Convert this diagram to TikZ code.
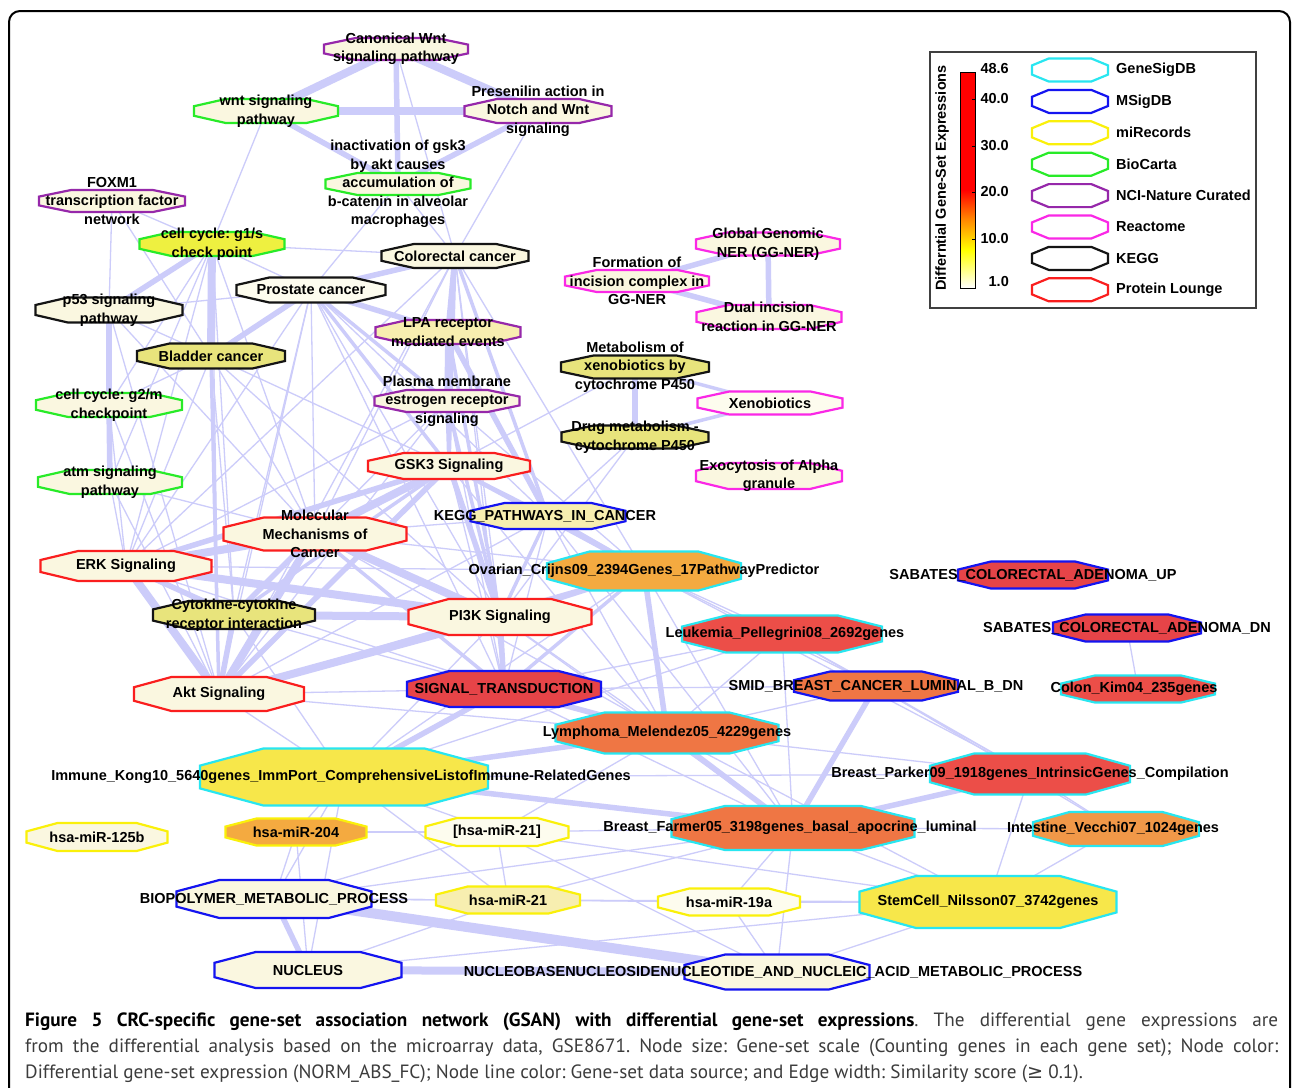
\documentclass[tikz,border=0pt]{standalone}
\usepackage{fontspec}
\setmainfont{Liberation Sans}
\newfontfamily\capfont{PT Sans}
\newfontfamily\symfont{DejaVu Sans}
\usetikzlibrary{calc}
\frenchspacing
\definecolor{edgec}{RGB}{204,204,250}
\definecolor{cream}{RGB}{250,247,224}
\definecolor{olive}{RGB}{232,228,124}
\definecolor{lyel}{RGB}{247,238,176}
\definecolor{byel}{RGB}{238,240,64}
\definecolor{gyel}{RGB}{247,231,74}
\definecolor{orng}{RGB}{244,170,64}
\definecolor{orng2}{RGB}{241,152,72}
\definecolor{ored}{RGB}{239,118,68}
\definecolor{rred}{RGB}{236,78,72}
\definecolor{sred}{RGB}{230,68,72}
\definecolor{wcream}{RGB}{253,252,238}
\definecolor{cGS}{RGB}{40,230,240}
\definecolor{cMS}{RGB}{20,20,240}
\definecolor{cMI}{RGB}{250,240,10}
\definecolor{cBC}{RGB}{40,235,40}
\definecolor{cNCI}{RGB}{150,40,170}
\definecolor{cRE}{RGB}{250,40,230}
\definecolor{cKE}{RGB}{20,20,20}
\definecolor{cPL}{RGB}{250,30,30}
\definecolor{captxt}{RGB}{60,60,60}
\tikzset{
  et/.style={draw=edgec, line width=1.3pt},
  em/.style={draw=edgec, line width=3.5pt},
  ek/.style={draw=edgec, line width=5.5pt},
  eK/.style={draw=edgec, line width=8pt},
  eH/.style={draw=edgec, line width=10pt},
  lab/.style={font=\bfseries\fontsize{14.5}{18.5}\selectfont, align=center, inner sep=0pt, text=black},
  leglab/.style={font=\bfseries\fontsize{14.5}{17}\selectfont, inner sep=0pt, text=black},
}
\newcommand\gsnode[5]{\node[inner sep=0pt, outer sep=0pt, minimum width=#4pt, minimum height=#5pt] (#1) at (#2,#3) {};}
\newcommand\gsoct[3]{%
 \filldraw[draw=#3, fill=#2, line width=2.2pt]
  ($(#1.north west)!0.22!(#1.north east)$) --
  ($(#1.north west)!0.78!(#1.north east)$) --
  ($(#1.north east)!0.3!(#1.south east)$) --
  ($(#1.north east)!0.7!(#1.south east)$) --
  ($(#1.south west)!0.78!(#1.south east)$) --
  ($(#1.south west)!0.22!(#1.south east)$) --
  ($(#1.north west)!0.7!(#1.south west)$) --
  ($(#1.north west)!0.3!(#1.south west)$) -- cycle;}
\begin{document}
\begin{tikzpicture}[x=1pt,y=-1pt]
\useasboundingbox (0,0) rectangle (1292,1087);
\fill[white] (0,0) rectangle (1292,1087);
\draw[line width=2pt, rounded corners=11pt] (9,1130) -- (9,11) -- (1290,11) -- (1290,1130);

% ---- node frames (positions) ----
\gsnode{canon}{396}{49}{144}{22}
\gsnode{wnt}{266}{111}{144}{24}
\gsnode{presen}{538}{111}{147}{24}
\gsnode{inact}{398}{184}{145}{22}
\gsnode{foxm1}{112}{201}{146}{22}
\gsnode{g1s}{212}{244}{145}{24}
\gsnode{colo}{455}{256}{147}{24}
\gsnode{prost}{311}{290}{149}{25}
\gsnode{p53}{109}{310}{147}{25}
\gsnode{blad}{211}{356}{148}{25}
\gsnode{lpa}{448}{332}{145}{24}
\gsnode{plasma}{447}{401}{145}{22}
\gsnode{g2m}{109}{405}{146}{24}
\gsnode{atm}{110}{482}{144}{24}
\gsnode{gsk3}{449}{466}{162}{26}
\gsnode{keggpc}{548}{516}{155}{26}
\gsnode{molec}{315}{534}{183}{33}
\gsnode{erk}{126}{566}{171}{30}
\gsnode{ovar}{644}{571}{194}{39}
\gsnode{cyto}{234}{615}{162}{28}
\gsnode{pi3k}{500}{617}{183}{36}
\gsnode{leuk}{782}{634}{200}{37}
\gsnode{sabup}{1033}{575}{150}{27}
\gsnode{sabdn}{1127}{628}{148}{27}
\gsnode{akt}{219}{694}{170}{34}
\gsnode{signal}{504}{689}{194}{36}
\gsnode{smid}{876}{686}{164}{29}
\gsnode{colon}{1138}{689}{154}{27}
\gsnode{lymph}{667}{733}{223}{41}
\gsnode{immune}{344}{777}{288}{57}
\gsnode{parker}{1030}{774}{200}{41}
\gsnode{mA}{97}{837}{141}{28}
\gsnode{mB}{296}{832}{141}{27}
\gsnode{mC}{497}{832}{143}{28}
\gsnode{farmer}{793}{828}{243}{44}
\gsnode{intest}{1116}{829}{166}{34}
\gsnode{biopol}{274}{899}{195}{38}
\gsnode{mD}{508}{900}{144}{27}
\gsnode{mE}{729}{902}{142}{27}
\gsnode{stem}{988}{902}{257}{52}
\gsnode{nucleus}{308}{970}{187}{36}
\gsnode{nucbase}{777}{972}{185}{35}
\gsnode{formation}{637}{281}{144}{22}
\gsnode{global}{768}{244}{144}{23}
\gsnode{dual}{769}{317}{145}{24}
\gsnode{xmetab}{635}{367}{148}{23}
\gsnode{xeno}{770}{403}{145}{23}
\gsnode{drug}{635}{437}{147}{23}
\gsnode{exo}{769}{476}{146}{26}

% ---- edges ----
\foreach \a/\b in {canon/colo, presen/colo, inact/colo, inact/prost, wnt/g1s, foxm1/g1s, foxm1/p53, foxm1/blad,
  g1s/colo, g1s/prost, g1s/g2m, g1s/atm, g1s/erk, g1s/molec, g1s/akt, g1s/cyto, p53/blad, p53/prost, p53/molec, p53/akt,
  blad/molec, blad/erk, blad/cyto, blad/gsk3, blad/pi3k, g2m/erk, g2m/akt, g2m/blad, atm/akt, atm/erk, atm/molec,
  prost/molec, prost/erk, prost/akt, prost/cyto, prost/pi3k, prost/keggpc, prost/signal, colo/pi3k, colo/molec, colo/ovar,
  colo/akt, colo/signal, colo/erk, plasma/molec, plasma/akt, plasma/erk, plasma/signal, plasma/ovar, gsk3/signal, gsk3/lymph,
  keggpc/signal, keggpc/molec, keggpc/akt, keggpc/lymph, keggpc/farmer, molec/ovar, molec/lymph, erk/signal, erk/ovar,
  pi3k/lymph, pi3k/immune, pi3k/farmer, akt/signal, akt/immune, akt/lymph, cyto/signal, cyto/immune, ovar/leuk, ovar/smid,
  ovar/immune, ovar/farmer, ovar/parker, signal/farmer, signal/leuk, signal/smid, leuk/lymph, leuk/smid, leuk/farmer,
  leuk/immune, leuk/parker, smid/lymph, smid/parker, smid/intest, lymph/parker, lymph/mC, lymph/stem, immune/mB, immune/mC,
  immune/biopol, immune/parker, immune/nucleus, immune/mD, parker/intest, parker/stem, farmer/intest, farmer/stem, farmer/mE,
  farmer/mC, farmer/nucbase, farmer/biopol, farmer/mD, mB/biopol, mB/nucleus, mB/mC, mC/mD, mC/biopol, mC/stem, mC/nucbase,
  mD/biopol, mD/mE, mD/nucleus, mE/stem, mE/nucbase, stem/nucbase, stem/nucleus, stem/biopol, sabdn/colon, intest/stem,
  drug/pi3k, xmetab/gsk3, drug/keggpc}
  \draw[et] (\a.center) -- (\b.center);
\foreach \a/\b in {prost/plasma, prost/gsk3, colo/plasma, colo/gsk3, colo/keggpc, lpa/gsk3, lpa/pi3k, plasma/gsk3,
  plasma/pi3k, gsk3/cyto, gsk3/keggpc, gsk3/ovar, keggpc/pi3k, molec/signal, akt/ovar, ovar/signal, blad/akt,
  xmetab/xeno, drug/xeno}
  \draw[em] (\a.center) -- (\b.center);
\foreach \a/\b in {canon/inact, wnt/inact, presen/inact, g1s/p53, p53/g2m, g2m/atm, blad/prost, prost/colo, prost/lpa,
  colo/lpa, lpa/plasma, lpa/keggpc, gsk3/erk, gsk3/akt, gsk3/pi3k, keggpc/ovar, molec/cyto, erk/cyto, cyto/akt,
  pi3k/signal, pi3k/ovar, ovar/lymph, signal/lymph, signal/immune, smid/farmer, lymph/immune, lymph/farmer,
  immune/farmer, parker/farmer, biopol/nucleus, xmetab/drug, formation/global, formation/dual, global/dual}
  \draw[ek] (\a.center) -- (\b.center);
\foreach \a/\b in {canon/wnt, canon/presen, wnt/presen, g1s/blad, gsk3/molec, molec/erk, molec/akt, molec/pi3k,
  erk/akt, erk/pi3k, cyto/pi3k, pi3k/akt, nucleus/nucbase}
  \draw[eK] (\a.center) -- (\b.center);
\draw[eH] (biopol.center) -- (nucbase.center);

% ---- octagons ----
\foreach \n/\f/\d in {canon/cream/cNCI, wnt/cream/cBC, presen/cream/cNCI, inact/cream/cBC, foxm1/cream/cNCI,
  g1s/byel/cBC, colo/cream/cKE, prost/wcream/cKE, p53/cream/cKE, blad/olive/cKE, lpa/lyel/cNCI, plasma/cream/cNCI,
  g2m/cream/cBC, atm/cream/cBC, gsk3/cream/cPL, keggpc/lyel/cMS, molec/cream/cPL, erk/cream/cPL, ovar/orng/cGS,
  cyto/olive/cKE, pi3k/cream/cPL, leuk/rred/cGS, sabup/sred/cMS, sabdn/sred/cMS, akt/cream/cPL, signal/sred/cMS,
  smid/ored/cMS, colon/rred/cGS, lymph/ored/cGS, immune/gyel/cGS, parker/rred/cGS, mA/cream/cMI, mB/orng/cMI,
  mC/wcream/cMI, farmer/ored/cGS, intest/orng2/cGS, biopol/cream/cMS, mD/lyel/cMI, mE/wcream/cMI, stem/gyel/cGS,
  nucleus/cream/cMS, nucbase/cream/cMS, formation/cream/cRE, global/cream/cRE, dual/cream/cRE, xmetab/olive/cKE,
  xeno/wcream/cRE, drug/olive/cKE, exo/cream/cRE}
  \gsoct{\n}{\f}{\d};

% ---- labels ----
\node[lab] (canonL) at (canon.center) {Canonical Wnt\\signaling pathway};
\node[lab] (wntL) at (wnt.center) {wnt signaling\\pathway};
\node[lab] (presenL) at (presen.center) {Presenilin action in\\Notch and Wnt\\signaling};
\node[lab] (inactL) at (inact.center) {inactivation of gsk3\\by akt causes\\accumulation of\\b-catenin in alveolar\\macrophages};
\node[lab] (foxm1L) at (foxm1.center) {FOXM1\\transcription factor\\network};
\node[lab] (g1sL) at (g1s.center) {cell cycle: g1/s\\check point};
\node[lab] (coloL) at (colo.center) {Colorectal cancer};
\node[lab] (prostL) at (prost.center) {Prostate cancer};
\node[lab] (p53L) at (p53.center) {p53 signaling\\pathway};
\node[lab] (bladL) at (blad.center) {Bladder cancer};
\node[lab] (lpaL) at (lpa.center) {LPA receptor\\mediated events};
\node[lab] (plasmaL) at (plasma.center) {Plasma membrane\\estrogen receptor\\signaling};
\node[lab] (g2mL) at (g2m.center) {cell cycle: g2/m\\checkpoint};
\node[lab] (atmL) at (atm.center) {atm signaling\\pathway};
\node[lab] (gsk3L) at (gsk3.center) {GSK3 Signaling};
\node[lab] (keggpcL) at ([xshift=-3pt]keggpc.center) {KEGG\_PATHWAYS\_IN\_CANCER};
\node[lab] (molecL) at (molec.center) {Molecular\\Mechanisms of\\Cancer};
\node[lab] (erkL) at (erk.center) {ERK Signaling};
\node[lab] (ovarL) at (ovar.center) {Ovarian\_Crijns09\_2394Genes\_17PathwayPredictor};
\node[lab] (cytoL) at (cyto.center) {Cytokine-cytokine\\receptor interaction};
\node[lab] (pi3kL) at (pi3k.center) {PI3K Signaling};
\node[lab] (leukL) at ([xshift=3pt]leuk.center) {Leukemia\_Pellegrini08\_2692genes};
\node[lab] (sabupL) at (sabup.center) {SABATES\_COLORECTAL\_ADENOMA\_UP};
\node[lab] (sabdnL) at (sabdn.center) {SABATES\_COLORECTAL\_ADENOMA\_DN};
\node[lab] (aktL) at (akt.center) {Akt Signaling};
\node[lab] (signalL) at (signal.center) {SIGNAL\_TRANSDUCTION};
\node[lab] (smidL) at (smid.center) {SMID\_BREAST\_CANCER\_LUMINAL\_B\_DN};
\node[lab] (colonL) at ([xshift=-4pt]colon.center) {Colon\_Kim04\_235genes};
\node[lab] (lymphL) at (lymph.center) {Lymphoma\_Melendez05\_4229genes};
\node[lab] (immuneL) at ([xshift=-3pt]immune.center) {Immune\_Kong10\_5640genes\_ImmPort\_ComprehensiveListofImmune-RelatedGenes};
\node[lab] (parkerL) at (parker.center) {Breast\_Parker09\_1918genes\_IntrinsicGenes\_Compilation};
\node[lab] (mAL) at (mA.center) {hsa-miR-125b};
\node[lab] (mBL) at (mB.center) {hsa-miR-204};
\node[lab] (mCL) at (mC.center) {[hsa-miR-21]};
\node[lab] (farmerL) at ([xshift=-3pt]farmer.center) {Breast\_Farmer05\_3198genes\_basal\_apocrine\_luminal};
\node[lab] (intestL) at ([xshift=-3pt]intest.center) {Intestine\_Vecchi07\_1024genes};
\node[lab] (biopolL) at (biopol.center) {BIOPOLYMER\_METABOLIC\_PROCESS};
\node[lab] (mDL) at (mD.center) {hsa-miR-21};
\node[lab] (mEL) at (mE.center) {hsa-miR-19a};
\node[lab] (stemL) at (stem.center) {StemCell\_Nilsson07\_3742genes};
\node[lab] (nucleusL) at (nucleus.center) {NUCLEUS};
\node[lab] (nucbaseL) at ([xshift=-4pt]nucbase.center) {NUCLEOBASENUCLEOSIDENUCLEOTIDE\_AND\_NUCLEIC\_ACID\_METABOLIC\_PROCESS};
\node[lab] (formationL) at (formation.center) {Formation of\\incision complex in\\GG-NER};
\node[lab] (globalL) at (global.center) {Global Genomic\\NER (GG-NER)};
\node[lab] (dualL) at (dual.center) {Dual incision\\reaction in GG-NER};
\node[lab] (xmetabL) at (xmetab.center) {Metabolism of\\xenobiotics by\\cytochrome P450};
\node[lab] (xenoL) at (xeno.center) {Xenobiotics};
\node[lab] (drugL) at (drug.center) {Drug metabolism -\\cytochrome P450};
\node[lab] (exoL) at (exo.center) {Exocytosis of Alpha\\granule};

% ---- legend ----
\node[draw=black!75, line width=1.5pt, minimum width=326pt, minimum height=256pt, inner sep=0pt] (legbox) at (1093,180) {};
\node[leglab, rotate=90] (legtitle) at (942,178) {Differntial Gene-Set Expressions};
\fill[red] (960,72) rectangle (975,190);
\shade[top color=red, bottom color={rgb,255:red,255;green,130;blue,0}] (960,190) rectangle (975,218);
\shade[top color={rgb,255:red,255;green,130;blue,0}, bottom color=yellow] (960,218) rectangle (975,250);
\shade[top color=yellow, bottom color=white] (960,250) rectangle (975,288);
\draw[line width=0.8pt] (960,72) rectangle (975,288);
\foreach \yy in {99,146,192,239} \draw[line width=0.8pt] (975,\yy) -- (972,\yy);
\node[leglab, anchor=east] (v1) at (1009,69) {48.6};
\node[leglab, anchor=east] (v2) at (1009,99) {40.0};
\node[leglab, anchor=east] (v3) at (1009,146) {30.0};
\node[leglab, anchor=east] (v4) at (1009,192) {20.0};
\node[leglab, anchor=east] (v5) at (1009,239) {10.0};
\node[leglab, anchor=east] (v6) at (1009,282) {1.0};
\foreach \i/\c/\t in {0/cGS/GeneSigDB, 1/cMS/MSigDB, 2/cMI/miRecords, 3/cBC/BioCarta, 4/cNCI/NCI-Nature Curated,
  5/cRE/Reactome, 6/cKE/KEGG, 7/cPL/Protein Lounge} {
  \gsnode{leg\i}{1070}{70+31.4*\i}{76}{23}
  \gsoct{leg\i}{white}{\c}
  \node[leglab, anchor=west] (legt\i) at (1116,70+31.4*\i) {\t};
}

% ---- caption ----
\node[anchor=base west, inner sep=0pt] (cap1) at (25,1026) {\capfont\fontsize{19.2}{22}\selectfont\makebox[1253pt][s]{\textbf{\color{black}Figure 5 CRC-specific gene-set association network (GSAN) with differential gene-set expressions}\color{captxt}. The differential gene expressions are}};
\node[anchor=base west, inner sep=0pt, text=captxt] (cap2) at (25,1052) {\capfont\fontsize{19.2}{22}\selectfont\makebox[1253pt][s]{from the differential analysis based on the microarray data, GSE8671. Node size: Gene-set scale (Counting genes in each gene set); Node color:}};
\node[anchor=base west, inner sep=0pt, text=captxt] (cap3) at (25,1078) {\capfont\fontsize{19.2}{22}\selectfont Differential gene-set expression (NORM\_ABS\_FC); Node line color: Gene-set data source; and Edge width: Similarity score ({\symfont ≥} 0.1).};
\end{tikzpicture}
\end{document}
